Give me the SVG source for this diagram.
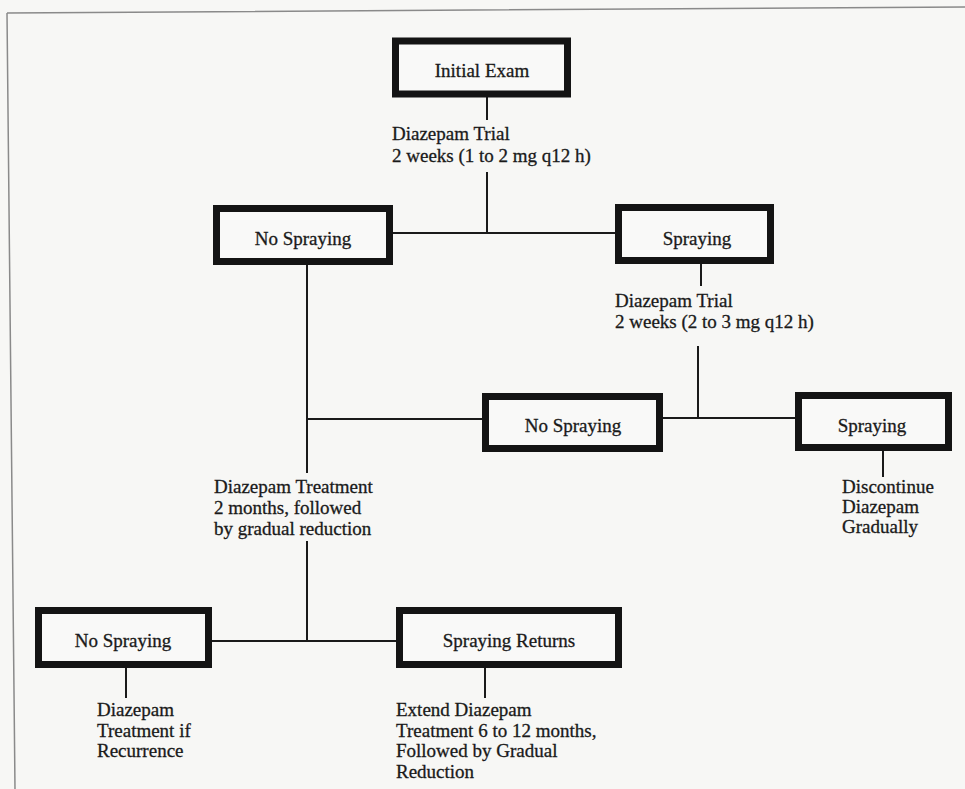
<svg xmlns="http://www.w3.org/2000/svg" width="965" height="789" viewBox="0 0 965 789">
<style>
.box{fill:#f9f9f8;stroke:#141414;stroke-width:7}
.ln{stroke:#1a1a1a;stroke-width:2;fill:none}
text{font-family:"Liberation Serif","Times New Roman",serif;font-size:19px;fill:#1a1a1a;stroke:#1a1a1a;stroke-width:0.3}
.c{text-anchor:middle}
</style>
<rect x="0" y="0" width="965" height="789" fill="#f7f7f5"/>
<path d="M7 13 L965 7 M7 13 L15 789" stroke="#8a8a8a" stroke-width="1.5" fill="none"/>
<g id="connectors">
<path class="ln" d="M487 97 V120 M487 172 V233 M393 233 H615"/>
<path class="ln" d="M701 264 V286 M698 346 V418 M663 418 H795"/>
<path class="ln" d="M883 451 V477"/>
<path class="ln" d="M307 265 V473 M307 419 H482 M307 541 V641 M212 641 H396"/>
<path class="ln" d="M126 668 V698 M485 668 V698"/>
</g>
<g id="initial-exam"><rect class="box" x="395.5" y="41" width="172" height="53"/><text class="c" x="482" y="77">Initial Exam</text></g>
<g id="trial1-label"><text x="392" y="140">Diazepam Trial</text><text x="392" y="162">2 weeks (1 to 2 mg q12 h)</text></g>
<g id="no-spraying-1"><rect class="box" x="216.5" y="208.5" width="173" height="53"/><text class="c" x="303" y="245">No Spraying</text></g>
<g id="spraying-1"><rect class="box" x="618.5" y="207.5" width="152" height="53"/><text class="c" x="697" y="245">Spraying</text></g>
<g id="trial2-label"><text x="615" y="307">Diazepam Trial</text><text x="615" y="328">2 weeks (2 to 3 mg q12 h)</text></g>
<g id="no-spraying-2"><rect class="box" x="485.5" y="396.5" width="174" height="52"/><text class="c" x="573" y="432">No Spraying</text></g>
<g id="spraying-2"><rect class="box" x="798.5" y="395.5" width="150" height="52"/><text class="c" x="872" y="432">Spraying</text></g>
<g id="discontinue-label"><text x="842" y="493">Discontinue</text><text x="842" y="513">Diazepam</text><text x="842" y="533">Gradually</text></g>
<g id="treatment-label"><text x="214" y="493">Diazepam Treatment</text><text x="214" y="514">2 months, followed</text><text x="214" y="535">by gradual reduction</text></g>
<g id="no-spraying-3"><rect class="box" x="38.5" y="610.5" width="170" height="54"/><text class="c" x="123" y="647">No Spraying</text></g>
<g id="spraying-returns"><rect class="box" x="399.5" y="610.5" width="219" height="54"/><text class="c" x="509" y="647">Spraying Returns</text></g>
<g id="recurrence-label"><text x="97" y="716">Diazepam</text><text x="97" y="737">Treatment if</text><text x="97" y="757">Recurrence</text></g>
<g id="extend-label"><text x="396" y="716">Extend Diazepam</text><text x="396" y="737">Treatment 6 to 12 months,</text><text x="396" y="757">Followed by Gradual</text><text x="396" y="778">Reduction</text></g>
</svg>
